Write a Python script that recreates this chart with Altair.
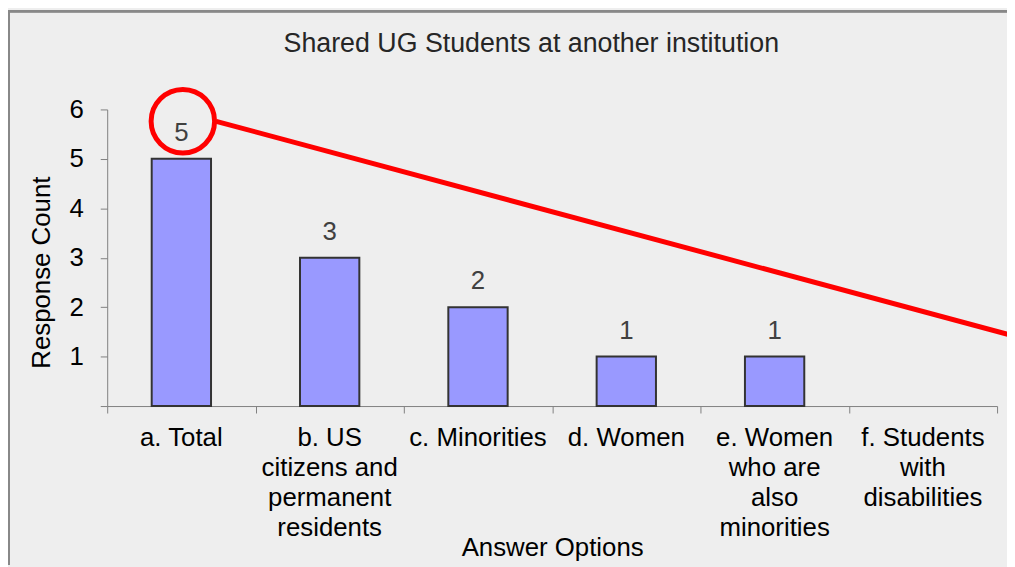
import altair as alt
import pandas as pd

# ---- data ----
categories = [
    "a. Total",
    "b. US\ncitizens and\npermanent\nresidents",
    "c. Minorities",
    "d. Women",
    "e. Women\nwho are\nalso\nminorities",
    "f. Students\nwith\ndisabilities",
]
counts = [5, 3, 2, 1, 1, 0]
y_ticks = [0, 1, 2, 3, 4, 5, 6]
band_edges = [0, 1, 2, 3, 4, 5, 6]

# annotation (in band units on x, count units on y)
circle_x = [0.51]
circle_y = [5.76]
line_x = [0.735]
line_y = [5.76]
line_x2 = [6.074]
line_y2 = [1.45]

FONT = "Liberation Sans"
W, H = 897, 299
PAD = {"left": 100, "top": 100, "right": 10, "bottom": 160}

df = pd.DataFrame({"option": categories, "count": counts})
circ_df = pd.DataFrame({"cx": circle_x, "cy": circle_y})
line_df = pd.DataFrame({"lx": line_x, "ly": line_y, "lx2": line_x2, "ly2": line_y2})

y_scale = alt.Scale(domain=[0, 6], nice=False, zero=True)
y_axis = alt.Axis(
    values=y_ticks,
    title="Response Count",
    labelExpr="datum.value == 0 ? '' : datum.label",
    tickSize=7,
    tickColor="#808080",
    domainColor="#808080",
    labelPadding=17,
    labelFontSize=26,
    labelColor="black",
    grid=False,
    titleFontSize=26,
    titleFontWeight="normal",
    titleColor="black",
    titleAngle=270,
    titleBaseline="middle",
    titleAlign="center",
    titleX=-66,
    titleY=164,
)

x_band = alt.X(
    "option:N",
    sort=categories,
    scale=alt.Scale(domain=categories, paddingInner=0.6, paddingOuter=0.3),
    axis=alt.Axis(
        orient="bottom",
        title="Answer Options",
        labelExpr="split(datum.label, '\\n')",
        labelAngle=0,
        ticks=False,
        tickSize=0,
        domain=False,
        labelPadding=40,
        labelBaseline="alphabetic",
        labelLineHeight=30,
        labelFontSize=26,
        labelColor="black",
        labelLimit=400,
        titleFontSize=26,
        titleFontWeight="normal",
        titleColor="black",
        titleY=151,
        titleBaseline="alphabetic",
        grid=False,
    ),
)

bars = alt.Chart(df).transform_filter("datum.count > 0").mark_bar(
    fill="#9999ff", stroke="#333333", strokeWidth=2
).encode(
    x=x_band,
    y=alt.Y("count:Q", scale=y_scale, axis=y_axis),
)

labels = alt.Chart(df).transform_filter("datum.count > 0").mark_text(
    baseline="alphabetic", dy=-18, fontSize=26, color="#404040"
).encode(
    x=x_band,
    y=alt.Y("count:Q", scale=y_scale, axis=y_axis),
    text=alt.Text("count:Q"),
)

band_layer = alt.layer(bars, labels)

q_scale = alt.Scale(domain=[0, 6], nice=False, zero=False)
q_axis = alt.Axis(
    orient="bottom",
    values=band_edges,
    labels=False,
    title=None,
    tickSize=7,
    tickColor="#808080",
    domainColor="#808080",
    grid=False,
)

circle = alt.Chart(circ_df).mark_point(
    shape="circle", size=4096, filled=False, stroke="#ff0000", strokeWidth=5, opacity=1
).encode(
    x=alt.X("cx:Q", scale=q_scale, axis=q_axis),
    y=alt.Y("cy:Q", scale=y_scale, axis=y_axis),
)

pointer = alt.Chart(line_df).mark_rule(color="#ff0000", strokeWidth=5).encode(
    x=alt.X("lx:Q", scale=q_scale, axis=q_axis),
    x2="lx2:Q",
    y=alt.Y("ly:Q", scale=y_scale, axis=y_axis),
    y2="ly2:Q",
)

annot_layer = alt.layer(circle, pointer)

# frame lines (left and top border of the chart area)
border_left = alt.Chart(df).mark_rule(color="#888888", strokeWidth=2).encode(
    x=alt.value(-PAD["left"] + 1), y=alt.value(-PAD["top"]), y2=alt.value(H + PAD["bottom"])
)
border_top = alt.Chart(df).mark_rule(color="#888888", strokeWidth=2).encode(
    x=alt.value(-PAD["left"]), x2=alt.value(W + PAD["right"]), y=alt.value(-PAD["top"] + 1)
)

chart = alt.layer(band_layer, annot_layer, border_left, border_top).resolve_scale(
    x="independent"
).properties(
    width=W,
    height=H,
    title=alt.TitleParams(
        "Shared UG Students at another institution",
        fontSize=27,
        font=FONT,
        color="#262626",
        fontWeight="normal",
        anchor="middle",
        dx=-21,
        offset=-70,
        baseline="alphabetic",
    ),
    autosize=alt.AutoSizeParams(type="none"),
    padding=PAD,
    background="#eeeeee",
).configure(
    font=FONT,
).configure_view(
    strokeWidth=0,
)

chart.save("out.html", embed_options={"renderer": "svg", "actions": False})
